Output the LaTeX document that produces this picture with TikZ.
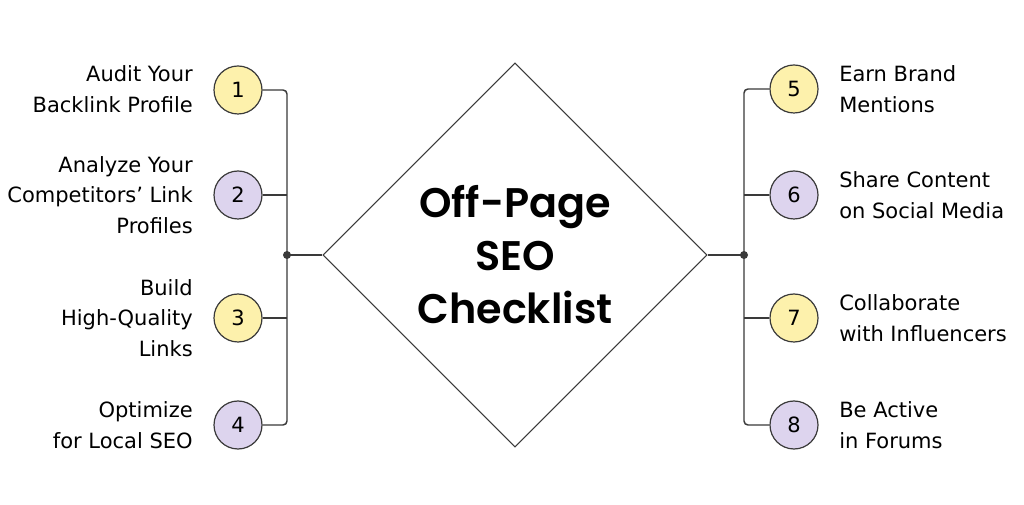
\documentclass[tikz,border=0pt]{standalone}
\usepackage{fontspec}
\setmainfont{DejaVu Sans}
\newfontfamily\titlefont{Poppins}[BoldFont={Poppins SemiBold}]
\usetikzlibrary{shapes.geometric}
\definecolor{stepyellow}{HTML}{FDF1AC}
\definecolor{steplilac}{HTML}{DDD4EE}
\definecolor{wiregray}{HTML}{3A3A3A}

\begin{document}
\begin{tikzpicture}[x=0.75pt, y=-0.75pt, every node/.style={font=\fontsize{15.75}{22.8}\selectfont},
	num/.style={circle, draw=wiregray, line width=0.9pt, minimum size=36pt, inner sep=0pt},
	ltext/.style={anchor=east, align=right, inner sep=0pt},
	rtext/.style={anchor=west, align=left, inner sep=0pt},
	wire/.style={draw=wiregray, line width=1.1pt}]
	\useasboundingbox[fill=white] (0,0) rectangle (1024,505);
	\node (hub) [diamond, draw=wiregray, line width=0.8pt, minimum width=288pt, minimum height=288pt, inner sep=0pt, align=center, font=\titlefont\bfseries\fontsize{31}{39.75}\selectfont] at (515,255) {Off-Page\\SEO\\Checklist};
	% left column
	\node (c1) [num, fill=stepyellow] at (238,90) {1};
	\node (c2) [num, fill=steplilac] at (238,195) {2};
	\node (c3) [num, fill=stepyellow] at (238,318) {3};
	\node (c4) [num, fill=steplilac] at (238,425) {4};
	\node (t1) [ltext] at (193,89) {Audit Your\\Backlink Profile};
	\node (t2) [ltext] at (193,195) {Analyze Your\\Competitors’ Link\\Profiles};
	\node (t3) [ltext] at (193,318) {Build\\High-Quality\\Links};
	\node (t4) [ltext] at (193,425) {Optimize\\for Local SEO};
	% right column
	\node (c5) [num, fill=stepyellow] at (794,89) {5};
	\node (c6) [num, fill=steplilac] at (794,195) {6};
	\node (c7) [num, fill=stepyellow] at (794,318) {7};
	\node (c8) [num, fill=steplilac] at (794,425) {8};
	\node (t5) [rtext] at (839,89) {Earn Brand\\Mentions};
	\node (t6) [rtext] at (839,195) {Share Content\\on Social Media};
	\node (t7) [rtext] at (839,318) {Collaborate\\with Influencers};
	\node (t8) [rtext] at (839,425) {Be Active\\in Forums};
	% buses
	\coordinate (jl) at (287,255);
	\coordinate (jr) at (744,255);
	\draw[wire, rounded corners=3pt] (c1.east) -| (jl |- c4) -- (c4.east);
	\draw[wire] (c2.east) -- (c2 -| jl);
	\draw[wire] (c3.east) -- (c3 -| jl);
	\draw[wire] (jl) -- (hub.west);
	\fill[wiregray] (jl) circle (4);
	\draw[wire, rounded corners=3pt] (c5.west) -| (jr |- c8) -- (c8.west);
	\draw[wire] (c6.west) -- (c6 -| jr);
	\draw[wire] (c7.west) -- (c7 -| jr);
	\draw[wire] (jr) -- (hub.east);
	\fill[wiregray] (jr) circle (4);
\end{tikzpicture}
\end{document}
